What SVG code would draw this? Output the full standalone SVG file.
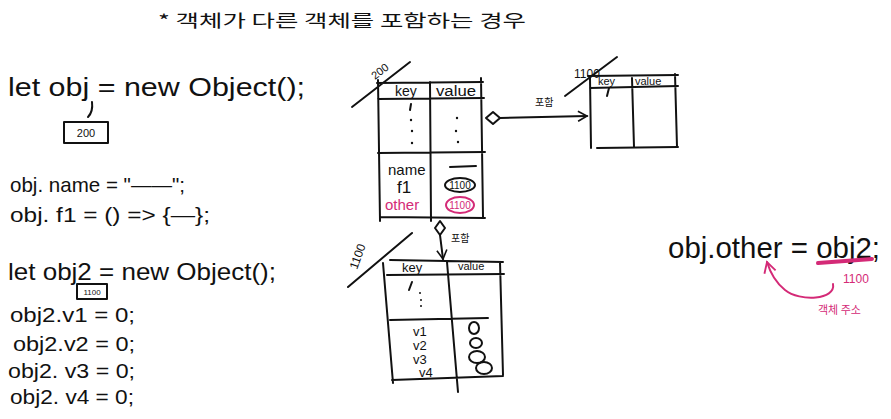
<svg xmlns="http://www.w3.org/2000/svg" width="891" height="419" viewBox="0 0 891 419">
<defs>
<style>
.t{font-family:"Liberation Sans","Noto Sans CJK KR",sans-serif;fill:#111}
.k{font-family:"Noto Sans CJK KR",sans-serif;fill:#111}
.p{fill:#d42a77}
.ln{stroke:#111;stroke-width:2;fill:none;stroke-linecap:round;stroke-linejoin:round}
.pl{stroke:#d42a77;stroke-width:2;fill:none;stroke-linecap:round}
</style>
<marker id="ah" viewBox="0 0 12 12" refX="10" refY="6" markerWidth="12" markerHeight="12" markerUnits="userSpaceOnUse" orient="auto">
<path d="M1,1 L10,6 L1,11" fill="none" stroke="#111" stroke-width="1.6"/>
</marker>
<marker id="ahp" viewBox="0 0 12 12" refX="10" refY="6" markerWidth="14" markerHeight="14" markerUnits="userSpaceOnUse" orient="auto">
<path d="M1,1 L10,6 L1,11" fill="none" stroke="#d42a77" stroke-width="1.6"/>
</marker>
</defs>
<rect width="891" height="419" fill="#fff"/>

<g id="title">
<text class="k" x="158" y="27" font-size="17" textLength="368" lengthAdjust="spacingAndGlyphs">*  객체가  다른 객체를  포함하는 경우</text>
</g>

<g id="code-obj">
<text class="t" x="8" y="96" font-size="25" textLength="297" lengthAdjust="spacingAndGlyphs">let  obj = new  Object();</text>
<path class="ln" d="M92,102 C93,110 91,114 88,117" stroke-width="1.6"/>
<rect x="64" y="122" width="44" height="21" class="ln" stroke-width="1.6"/>
<text class="t" x="86" y="137" font-size="11" text-anchor="middle">200</text>
<text class="t" x="10" y="192" font-size="21" textLength="175" lengthAdjust="spacingAndGlyphs">obj. name = "——";</text>
<text class="t" x="10" y="222" font-size="21" textLength="200" lengthAdjust="spacingAndGlyphs">obj. f1 = () =&gt; {—};</text>
</g>

<g id="code-obj2">
<text class="t" x="8" y="280" font-size="24" textLength="268" lengthAdjust="spacingAndGlyphs">let obj2 = new Object();</text>
<rect x="77" y="284" width="30" height="15" class="ln" stroke-width="1.6"/>
<text class="t" x="92" y="295" font-size="8" text-anchor="middle">1100</text>
<text class="t" x="10" y="322" font-size="20" textLength="125" lengthAdjust="spacingAndGlyphs">obj2.v1 =  0;</text>
<text class="t" x="13" y="351" font-size="20" textLength="122" lengthAdjust="spacingAndGlyphs">obj2.v2 = 0;</text>
<text class="t" x="8" y="378" font-size="20" textLength="127" lengthAdjust="spacingAndGlyphs">obj2. v3 = 0;</text>
<text class="t" x="10" y="404" font-size="20" textLength="124" lengthAdjust="spacingAndGlyphs">obj2. v4 = 0;</text>
</g>

<g id="table-200">
<path class="ln" d="M377,83 L483,82 M378,99 L484,98 M378,80 L380,221 M430,82 L431,221 M481,78 L483,217 M378,153 L485,152 M380,217 L485,218 M352,107 L410,62"/>
<text class="t" x="375" y="80" font-size="11" transform="rotate(-38 375 80)">200</text>
<text class="t" x="395" y="96" font-size="14">key</text>
<text class="t" x="436" y="96" font-size="14" textLength="40" lengthAdjust="spacingAndGlyphs">value</text>
<path class="ln" d="M411,104 L410,110"/>
<g fill="#111"><circle cx="411" cy="120" r="1.2"/><circle cx="412" cy="131" r="1.2"/><circle cx="412" cy="143" r="1.2"/><circle cx="457" cy="118" r="1.2"/><circle cx="456" cy="131" r="1.2"/><circle cx="458" cy="142" r="1.2"/></g>
<text class="t" x="388" y="175" font-size="15">name</text>
<text class="t" x="397" y="193" font-size="17">f1</text>
<text class="t p" x="385" y="210" font-size="15">other</text>
<path class="ln" d="M450,167 L476,166"/>
<ellipse cx="460" cy="185" rx="15" ry="7" class="ln" stroke-width="1.6"/>
<text class="t" x="460" y="189" font-size="10" text-anchor="middle">1100</text>
<ellipse cx="460" cy="205" rx="14" ry="8" class="pl" stroke-width="1.6"/>
<text class="t p" x="460" y="209" font-size="10" text-anchor="middle">1100</text>
</g>

<g id="table-1100-top">
<path class="ln" d="M588,76 L678,75 M590,88 L678,86 M590,78 L591,148 M632,78 L634,147 M675,74 L677,147 M597,148 L678,147 M565,96 L617,57"/>
<text class="t" x="574" y="78" font-size="12">1100</text>
<text class="t" x="598" y="85" font-size="11">key</text>
<text class="t" x="635" y="85" font-size="11">value</text>
<path class="ln" d="M609,88 L607,96"/>
</g>

<g id="table-1100-bottom">
<path class="ln" d="M390,260 L503,262 M387,275 L504,274 M383,263 L393,383 M447,262 L458,392 M500,262 L503,375 M390,320 L488,318 M392,380 L503,376 M348,287 L412,233"/>
<text class="t" x="357" y="270" font-size="12" transform="rotate(-70 357 270)">1100</text>
<text class="t" x="402" y="272" font-size="13">key</text>
<text class="t" x="458" y="270" font-size="11">value</text>
<path class="ln" d="M412,282 L409,290"/>
<g fill="#111"><circle cx="420" cy="293" r="1"/><circle cx="421" cy="300" r="1"/><circle cx="421" cy="306" r="1"/></g>
<text class="t" x="413" y="336" font-size="13">v1</text>
<text class="t" x="413" y="350" font-size="13">v2</text>
<text class="t" x="413" y="364" font-size="13">v3</text>
<text class="t" x="419" y="377" font-size="13">v4</text>
<g class="ln" stroke-width="1.5"><ellipse cx="474" cy="328" rx="5" ry="6"/><ellipse cx="476" cy="343" rx="6" ry="5"/><ellipse cx="477" cy="357" rx="8" ry="6"/><ellipse cx="484" cy="368" rx="8" ry="6"/></g>
</g>

<g id="connectors">
<path class="ln" d="M493,112 L500,118 L493,124 L486,118 Z" stroke-width="1.6"/>
<path class="ln" d="M500,118 L587,116" marker-end="url(#ah)" stroke-width="1.6"/>
<text class="k" x="535" y="106" font-size="10">포함</text>
<path class="ln" d="M440,221 L445,228 L440,235 L435,228 Z" stroke-width="1.6"/>
<path class="ln" d="M440,235 L443,259" marker-end="url(#ah)" stroke-width="1.6"/>
<text class="k" x="451" y="242" font-size="10">포함</text>
</g>

<g id="assign">
<text class="t" x="668" y="258" font-size="30" textLength="212" lengthAdjust="spacingAndGlyphs">obj.other = obj2;</text>
<path d="M818,263 L872,259" stroke="#d42a77" stroke-width="4" stroke-linecap="round"/>
<text class="t p" x="843" y="283" font-size="12">1100</text>
<path class="pl" d="M833,284 C836,300 800,302 785,290 C775,282 770,272 767,262" marker-end="url(#ahp)"/>
<text class="k p" x="818" y="314" font-size="11">객체 주소</text>
</g>
</svg>
